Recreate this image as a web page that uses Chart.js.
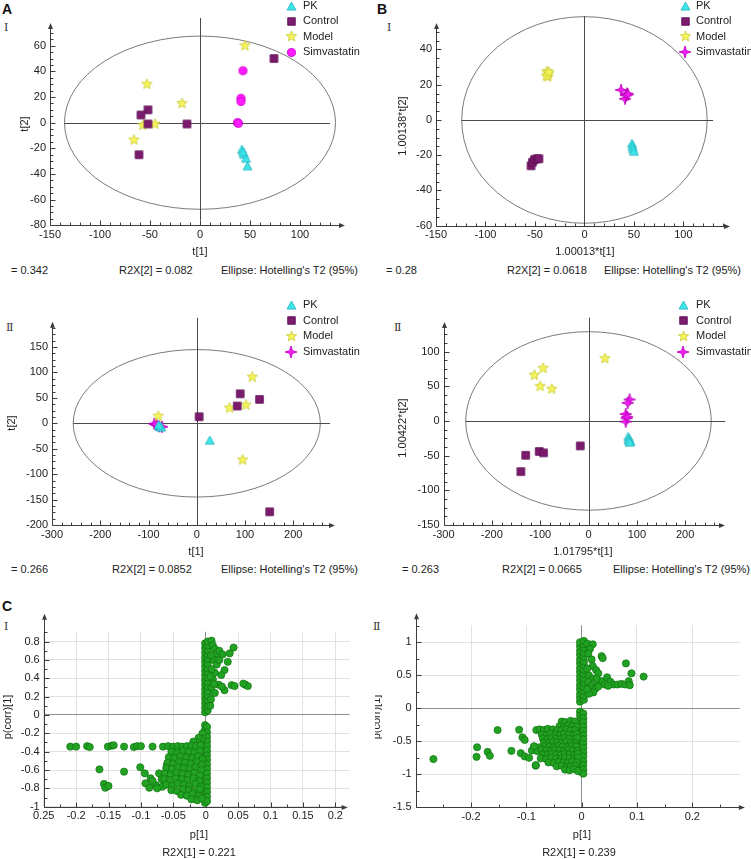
<!DOCTYPE html>
<html>
<head>
<meta charset="utf-8">
<script src="https://cdn.jsdelivr.net/npm/chart.js@4.4.0/dist/chart.umd.min.js"></script>
<style>
  body { margin: 0; width: 751px; height: 859px; position: relative; background: #fff; overflow: hidden; }
  .t { position: absolute; font: 11px "Liberation Sans", Arial, sans-serif; color: #222; white-space: nowrap; line-height: 13px; }
  .p { position: absolute; font: bold 14px "Liberation Sans", Arial, sans-serif; color: #111; line-height: 16px; }
  .r { position: absolute; font: 11px "DejaVu Serif", serif; color: #333; line-height: 13px; }
</style>
</head>
<body>
<div class="p" style="left:2px;top:1px">A</div>
<div class="p" style="left:377px;top:1px">B</div>
<div class="p" style="left:2px;top:598px">C</div>
<div class="r" style="left:4px;top:21px">Ⅰ</div>
<div class="r" style="left:387px;top:21px">Ⅰ</div>
<div class="r" style="left:6px;top:321px">Ⅱ</div>
<div class="r" style="left:394px;top:321px">Ⅱ</div>
<div class="r" style="left:4px;top:620px">Ⅰ</div>
<div class="r" style="left:373px;top:620px">Ⅱ</div>

<div class="t" style="left:11px;top:264px">= 0.342</div>
<div class="t" style="left:119px;top:264px">R2X[2] = 0.082</div>
<div class="t" style="left:221px;top:264px">Ellipse: Hotelling's T2 (95%)</div>
<div class="t" style="left:386px;top:264px">= 0.28</div>
<div class="t" style="left:507px;top:264px">R2X[2] = 0.0618</div>
<div class="t" style="left:604px;top:264px">Ellipse: Hotelling's T2 (95%)</div>
<div class="t" style="left:11px;top:563px">= 0.266</div>
<div class="t" style="left:112px;top:563px">R2X[2] = 0.0852</div>
<div class="t" style="left:221px;top:563px">Ellipse: Hotelling's T2 (95%)</div>
<div class="t" style="left:402px;top:563px">= 0.263</div>
<div class="t" style="left:502px;top:563px">R2X[2] = 0.0665</div>
<div class="t" style="left:613px;top:563px">Ellipse: Hotelling's T2 (95%)</div>

<script>
// ---- data ----
const groupNames = ['PK', 'Control', 'Model', 'Simvastatin'];

// A-I  t[1] / t[2]
const a1PK = [[42,-21],[44,-25],[46,-28],[47.5,-34],[43,-23]];
const a1Control = [[74,50],[-52,10],[-59,6],[-52,-1],[-13,-1],[-61,-25]];
const a1Model = [[45,60],[-53,30],[-18,15],[-57,-2],[-45,-1],[-66,-13.5]];
const a1Simv = [[43,40.5],[41,19],[41,16.5],[37.5,0],[38.5,-0.5]];
const a1Ellipse = [135.5, 67.5];
const a1Cross = [-136, 130, -76, 81.6];

// B-I  1.00013*t[1] / 1.00138*t[2]
const b1PK = [[48,-13.5],[48.5,-15],[49,-16.5],[50,-18]];
const b1Control = [[-54,-26],[-52.5,-24],[-50.5,-22.5],[-48,-22],[-46,-22]];
const b1Model = [[-38,27.5],[-36.5,26],[-37,24.5],[-38.5,25],[-36,27]];
const b1Simv = [[37,17],[43,15],[41,12],[42,14],[44,14.5]];
const b1Ellipse = [124, 58.6];
const b1Cross = [-124, 130, -58.6, 58.9];

// A-II
const a2PK = [[-78,-5],[-76,-7],[-74,-8],[-79,-4],[27,-34]];
const a2Control = [[90,58],[84,34],[130,47],[5,13],[151,-174]];
const a2Model = [[115,91],[68,30],[102,36],[-80,14],[95,-72]];
const a2Simv = [[-88,-1],[-83,-3],[-78,-6],[-72,-7],[-85,-2]];
const a2Ellipse = [256, 145];
const a2Cross = [-256, 276, -200, 207.7];

// B-II  1.01795*t[1] / 1.00422*t[2]
const b2PK = [[82,-23],[84,-26],[87,-30],[83,-28],[85,-31]];
const b2Control = [[-17,-36],[-102,-44],[-93,-46],[-130,-49.5],[-140,-73]];
const b2Model = [[34,90],[-112,66],[-94,76],[-100,50],[-76,46]];
const b2Simv = [[85,31],[81,26],[77,10],[79,4],[77,-1],[80,6]];
const b2Ellipse = [254, 128.7];
const b2Cross = [-254, 283, -150, 149];

// C-I  p[1] / p(corr)[1]
const c1Points = [
  [-0.001,-0.11],[-0.001,-0.16],[-0.001,-0.21],[-0.001,-0.26],[-0.001,-0.31],[-0.001,-0.36],[-0.001,-0.41],[-0.001,-0.46],[-0.001,-0.51],
  [-0.001,-0.56],[-0.001,-0.61],[-0.001,-0.66],[-0.001,-0.71],[-0.001,-0.76],[-0.001,-0.81],[-0.001,-0.86],[-0.001,-0.91],[-0.001,-0.96],
  [0.002,-0.13],[0.002,-0.19],[0.002,-0.24],[0.002,-0.29],[0.002,-0.34],[0.002,-0.39],[0.002,-0.44],[0.002,-0.49],[0.002,-0.54],
  [0.002,-0.59],[0.002,-0.64],[0.002,-0.69],[0.002,-0.74],[0.002,-0.79],[0.002,-0.84],[0.002,-0.89],[0.002,-0.94],
  [-0.005,-0.2],[-0.006,-0.26],[-0.011,-0.25],[-0.013,-0.3],[-0.019,-0.29],
  [-0.209,-0.345],[-0.2,-0.345],[-0.183,-0.34],[-0.179,-0.35],[-0.151,-0.345],[-0.145,-0.335],[-0.142,-0.33],[-0.126,-0.345],
  [-0.111,-0.35],[-0.106,-0.34],[-0.1,-0.34],[-0.082,-0.345],[-0.066,-0.345],[-0.058,-0.34],[-0.05,-0.345],[-0.043,-0.34],
  [-0.036,-0.345],[-0.029,-0.34],[-0.022,-0.335],[-0.015,-0.34],[-0.008,-0.33],
  [-0.164,-0.593],[-0.157,-0.752],[-0.155,-0.793],[-0.15,-0.774],[-0.126,-0.618],[-0.101,-0.57],[-0.094,-0.636],[-0.093,-0.745],
  [-0.085,-0.69],[-0.087,-0.793],[-0.072,-0.636],[-0.077,-0.764],[-0.067,-0.782],[-0.06,-0.545],[-0.082,-0.72],[-0.075,-0.8],[-0.068,-0.7],
  [-0.053,-0.4],[-0.044,-0.41],[-0.035,-0.39],[-0.026,-0.4],[-0.017,-0.41],[-0.009,-0.39],
  [-0.057,-0.46],[-0.048,-0.47],[-0.039,-0.45],[-0.03,-0.46],[-0.021,-0.47],[-0.012,-0.45],[-0.005,-0.48],
  [-0.059,-0.52],[-0.05,-0.53],[-0.041,-0.51],[-0.032,-0.52],[-0.023,-0.53],[-0.014,-0.51],[-0.006,-0.54],
  [-0.061,-0.58],[-0.052,-0.59],[-0.043,-0.57],[-0.034,-0.58],[-0.025,-0.59],[-0.016,-0.57],[-0.007,-0.6],
  [-0.063,-0.64],[-0.054,-0.65],[-0.045,-0.63],[-0.036,-0.64],[-0.027,-0.65],[-0.018,-0.63],[-0.009,-0.66],
  [-0.064,-0.7],[-0.055,-0.71],[-0.046,-0.69],[-0.037,-0.7],[-0.028,-0.71],[-0.019,-0.69],[-0.01,-0.72],
  [-0.061,-0.76],[-0.052,-0.77],[-0.043,-0.75],[-0.034,-0.76],[-0.025,-0.77],[-0.016,-0.75],[-0.007,-0.78],
  [-0.053,-0.82],[-0.044,-0.83],[-0.035,-0.81],[-0.026,-0.82],[-0.017,-0.83],[-0.009,-0.81],
  [-0.038,-0.87],[-0.029,-0.88],[-0.02,-0.86],[-0.011,-0.88],
  [-0.022,-0.92],[-0.013,-0.93],[-0.006,-0.91],
  [-0.001,0.03],[-0.001,0.08],[-0.001,0.13],[-0.001,0.18],[-0.001,0.23],[-0.001,0.28],[-0.001,0.33],[-0.001,0.38],
  [-0.001,0.43],[-0.001,0.48],[-0.001,0.53],[-0.001,0.58],[-0.001,0.63],[-0.001,0.68],[-0.001,0.73],[-0.001,0.78],
  [0.003,0.05],[0.003,0.1],[0.003,0.16],[0.003,0.21],[0.003,0.26],[0.003,0.31],[0.003,0.36],[0.003,0.41],
  [0.003,0.46],[0.003,0.51],[0.003,0.56],[0.003,0.61],[0.003,0.66],[0.003,0.71],[0.003,0.76],[0.003,0.8],
  [0.009,0.81],[0.011,0.76],[0.014,0.72],[0.017,0.67],[0.021,0.7],[0.026,0.66],[0.043,0.735],[0.037,0.672],
  [0.034,0.58],[0.029,0.49],[0.024,0.436],[0.012,0.6],[0.017,0.55],[0.014,0.46],[0.011,0.39],[0.02,0.33],
  [0.029,0.27],[0.04,0.325],[0.0445,0.316],[0.061,0.33],[0.065,0.316],[0.058,0.342],[0.009,0.3],[0.014,0.24],
  [0.008,0.17],[0.009,0.5],[0.008,0.65],[0.021,0.6],[0.025,0.31],[0.013,0.34],[0.007,0.42],[0.007,0.1]
];

// C-II
const c2Points = [
  [-0.003,0.1],[-0.003,0.16],[-0.003,0.22],[-0.003,0.29],[-0.003,0.35],[-0.003,0.42],[-0.003,0.48],[-0.003,0.55],
  [-0.003,0.61],[-0.003,0.68],[-0.003,0.74],[-0.003,0.81],[-0.003,0.87],[-0.003,0.94],[-0.003,1.0],
  [0.004,0.13],[0.004,0.19],[0.004,0.26],[0.004,0.32],[0.004,0.39],[0.004,0.45],[0.004,0.52],[0.004,0.58],
  [0.004,0.65],[0.004,0.71],[0.004,0.78],[0.004,0.84],[0.004,0.91],[0.004,0.97],[0.004,1.02],
  [0.01,0.98],[0.02,0.97],[0.015,0.9],[0.012,0.83],[0.018,0.74],[0.036,0.79],[0.038,0.76],[0.02,0.64],
  [0.026,0.58],[0.03,0.53],[0.013,0.5],[0.02,0.45],[0.012,0.4],[0.018,0.34],[0.025,0.3],[0.021,0.24],
  [0.013,0.22],[0.03,0.38],[0.036,0.41],[0.042,0.36],[0.046,0.47],[0.052,0.4],[0.058,0.36],[0.065,0.36],
  [0.072,0.37],[0.079,0.36],[0.085,0.41],[0.087,0.35],[0.08,0.68],[0.09,0.53],[0.112,0.48],[0.03,0.33],
  [0.048,0.34],[0.01,0.6],[0.027,0.45],[0.01,0.29],
  [-0.003,-0.05],[-0.003,-0.11],[-0.003,-0.18],[-0.003,-0.24],[-0.003,-0.31],[-0.003,-0.37],[-0.003,-0.44],[-0.003,-0.5],
  [-0.003,-0.57],[-0.003,-0.63],[-0.003,-0.7],[-0.003,-0.76],[-0.003,-0.83],[-0.003,-0.89],[-0.003,-0.96],
  [0.003,-0.08],[0.003,-0.15],[0.003,-0.21],[0.003,-0.28],[0.003,-0.34],[0.003,-0.41],[0.003,-0.47],[0.003,-0.54],
  [0.003,-0.6],[0.003,-0.67],[0.003,-0.73],[0.003,-0.8],[0.003,-0.86],[0.003,-0.93],[0.003,-0.99],
  [-0.036,-0.2],[-0.03,-0.21],[-0.02,-0.19],[-0.012,-0.2],
  [-0.04,-0.27],[-0.032,-0.28],[-0.024,-0.26],[-0.016,-0.27],[-0.009,-0.28],
  [-0.082,-0.33],[-0.076,-0.32],[-0.068,-0.33],[-0.061,-0.31],[-0.052,-0.32],[-0.044,-0.34],[-0.036,-0.33],[-0.028,-0.32],[-0.02,-0.34],[-0.012,-0.33],
  [-0.072,-0.4],[-0.064,-0.41],[-0.056,-0.39],[-0.048,-0.4],[-0.04,-0.41],[-0.032,-0.39],[-0.024,-0.4],[-0.016,-0.41],[-0.009,-0.39],
  [-0.07,-0.46],[-0.062,-0.47],[-0.054,-0.45],[-0.046,-0.46],[-0.038,-0.47],[-0.03,-0.45],[-0.022,-0.46],[-0.014,-0.47],[-0.008,-0.45],
  [-0.068,-0.52],[-0.06,-0.53],[-0.052,-0.51],[-0.044,-0.52],[-0.036,-0.53],[-0.028,-0.51],[-0.02,-0.52],[-0.012,-0.53],
  [-0.086,-0.58],[-0.076,-0.59],[-0.066,-0.57],[-0.058,-0.58],[-0.05,-0.59],[-0.042,-0.57],[-0.034,-0.58],[-0.026,-0.59],[-0.018,-0.57],[-0.01,-0.58],
  [-0.09,-0.64],[-0.08,-0.65],[-0.072,-0.63],[-0.064,-0.64],[-0.056,-0.65],[-0.048,-0.63],[-0.04,-0.64],[-0.032,-0.65],[-0.024,-0.63],[-0.016,-0.64],[-0.008,-0.65],
  [-0.07,-0.7],[-0.062,-0.71],[-0.054,-0.69],[-0.046,-0.7],[-0.038,-0.71],[-0.03,-0.69],[-0.022,-0.7],[-0.014,-0.71],[-0.007,-0.69],
  [-0.074,-0.76],[-0.064,-0.77],[-0.055,-0.75],[-0.046,-0.76],[-0.038,-0.77],[-0.03,-0.75],[-0.022,-0.76],[-0.014,-0.77],[-0.007,-0.75],
  [-0.06,-0.82],[-0.05,-0.83],[-0.041,-0.81],[-0.033,-0.82],[-0.025,-0.83],[-0.017,-0.81],[-0.009,-0.82],
  [-0.083,-0.87],[-0.045,-0.88],[-0.036,-0.87],[-0.028,-0.89],[-0.02,-0.88],[-0.012,-0.87],
  [-0.03,-0.93],[-0.022,-0.94],[-0.014,-0.92],[-0.007,-0.95],
  [-0.268,-0.77],[-0.189,-0.59],[-0.19,-0.735],[-0.17,-0.66],[-0.166,-0.72],[-0.152,-0.33],[-0.127,-0.645],[-0.113,-0.325],
  [-0.107,-0.44],[-0.103,-0.48],[-0.11,-0.68],[-0.103,-0.73],[-0.095,-0.75],[-0.086,-0.575],[-0.083,-0.86]
];

// ---- markers ----
function marker(shape, fill, stroke, size) {
  const s = size + 2;
  const c = document.createElement('canvas');
  c.width = s; c.height = s;
  const g = c.getContext('2d');
  const h = s / 2, r = size / 2;
  g.beginPath();
  if (shape === 'square') {
    g.rect(h - r * 0.85, h - r * 0.85, r * 1.7, r * 1.7);
  } else if (shape === 'circle') {
    g.arc(h, h, r * 0.9, 0, Math.PI * 2);
  } else if (shape === 'triangle') {
    g.moveTo(h, h - r); g.lineTo(h + r, h + r * 0.8); g.lineTo(h - r, h + r * 0.8); g.closePath();
  } else {
    const n = shape === 'star4' ? 4 : 5;
    const inner = shape === 'star4' ? 0.33 : 0.45;
    for (let i = 0; i < n * 2; i++) {
      const a = -Math.PI / 2 + i * Math.PI / n;
      const rr = i % 2 ? r * inner : r;
      const px = h + Math.cos(a) * rr, py = h + Math.sin(a) * rr;
      if (i === 0) g.moveTo(px, py); else g.lineTo(px, py);
    }
    g.closePath();
  }
  g.fillStyle = fill; g.fill();
  g.strokeStyle = stroke; g.lineWidth = 0.8; g.stroke();
  return c;
}

const mkPK = marker('triangle', '#3fe4e8', '#22b4c0', 9);
const mkControl = marker('square', '#7c1b6e', '#5a0f50', 9);
const mkModel = marker('star5', '#f4f45a', '#c9c93a', 11);
const mkSimvCircle = marker('circle', '#ff1cff', '#c400c4', 9);
const mkSimvStar = marker('star4', '#f21ef2', '#b800b8', 12);

// ---- decoration plugin: ellipse, zero lines, arrowed axes, titles, legend ----
const simca = {
  id: 'simca',
  beforeDatasetsDraw(chart, args, o) {
    const { ctx, chartArea: a, scales: { x, y } } = chart;
    ctx.save();
    ctx.lineWidth = 1;
    const cx = x.getPixelForValue(0), cy = y.getPixelForValue(0);
    if (o.ellipse) {
      ctx.strokeStyle = '#7a7a7a';
      ctx.beginPath();
      ctx.ellipse(cx, cy, x.getPixelForValue(o.ellipse[0]) - cx, cy - y.getPixelForValue(o.ellipse[1]), 0, 0, Math.PI * 2);
      ctx.stroke();
    }
    if (o.cross) {
      const py = Math.round(cy) + 0.5, px = Math.round(cx) + 0.5;
      ctx.strokeStyle = '#4a4a4a';
      ctx.beginPath();
      ctx.moveTo(x.getPixelForValue(o.cross[0]), py); ctx.lineTo(x.getPixelForValue(o.cross[1]), py);
      ctx.moveTo(px, y.getPixelForValue(o.cross[2])); ctx.lineTo(px, y.getPixelForValue(o.cross[3]));
      ctx.stroke();
    }
    // axes with arrows
    const L = Math.round(a.left) + 0.5, B = Math.round(a.bottom) + 0.5;
    const R = a.right + o.arrow[0], T = a.top - o.arrow[1];
    ctx.strokeStyle = '#3c3c3c'; ctx.fillStyle = '#3c3c3c';
    ctx.beginPath();
    ctx.moveTo(L, B); ctx.lineTo(R - 3, B);
    ctx.moveTo(L, B); ctx.lineTo(L, T + 3);
    ctx.stroke();
    ctx.beginPath();
    ctx.moveTo(R, B); ctx.lineTo(R - 6, B - 2.5); ctx.lineTo(R - 6, B + 2.5); ctx.closePath();
    ctx.moveTo(L, T); ctx.lineTo(L - 2.5, T + 6); ctx.lineTo(L + 2.5, T + 6); ctx.closePath();
    ctx.fill();
    // major + minor ticks, drawn inside
    ctx.beginPath();
    for (let i = 0; ; i++) {
      const v = x.min + i * o.minor[0];
      if (v > x.max + 1e-9) break;
      const q = v / o.major[0];
      const len = Math.abs(q - Math.round(q)) < 1e-6 ? 5 : 3;
      const p = Math.round(x.getPixelForValue(v)) + 0.5;
      ctx.moveTo(p, B); ctx.lineTo(p, B - len);
    }
    for (let i = 0; ; i++) {
      const v = y.min + i * o.minor[1];
      if (v > y.max + 1e-9) break;
      const q = v / o.major[1];
      const len = Math.abs(q - Math.round(q)) < 1e-6 ? 5 : 3;
      const p = Math.round(y.getPixelForValue(v)) + 0.5;
      ctx.moveTo(L, p); ctx.lineTo(L + len, p);
    }
    ctx.stroke();
    ctx.restore();
  },
  afterDraw(chart, args, o) {
    const { ctx } = chart;
    const [ox, oy] = o.off;
    ctx.save();
    ctx.font = '11px "Liberation Sans", Arial, sans-serif';
    ctx.fillStyle = '#222';
    ctx.textBaseline = 'middle';
    ctx.textAlign = 'center';
    ctx.fillText(o.xTitle, o.xt[0] - ox, o.xt[1] - oy);
    if (o.xTitle2) ctx.fillText(o.xTitle2, o.xt2[0] - ox, o.xt2[1] - oy);
    ctx.save();
    ctx.translate(o.yt[0] - ox, o.yt[1] - oy);
    ctx.rotate(-Math.PI / 2);
    ctx.fillText(o.yTitle, 0, 0);
    ctx.restore();
    if (o.legend) {
      ctx.textAlign = 'left';
      chart.data.datasets.forEach((ds, i) => {
        const yy = o.legend.y - oy + i * o.legend.dy;
        const img = ds.pointStyle;
        ctx.drawImage(img, Math.round(o.legend.mx - ox - img.width / 2), Math.round(yy - img.height / 2));
        ctx.fillText(ds.label, o.legend.tx - ox, yy);
      });
    }
    ctx.restore();
  }
};

const fmt = v => String(+v.toFixed(6));

function groupSets(pk, control, model, simv, simvMarker) {
  const sets = [pk, control, model, simv];
  const marks = [mkPK, mkControl, mkModel, simvMarker];
  return sets.map((d, i) => ({
    label: groupNames[i],
    data: d.map(([x, y]) => ({ x, y })),
    pointStyle: marks[i],
    pointRadius: 4
  }));
}

function greenSet(points) {
  return [{
    label: 'p',
    data: points.map(([x, y]) => ({ x, y })),
    pointStyle: 'circle',
    pointRadius: 3.6,
    backgroundColor: '#22a222',
    borderColor: '#107210',
    borderWidth: 0.7
  }];
}

// box: [left, top, width, height] of the canvas on the page
// area: [left, top, right, bottom] of the plot area on the page
function build(box, area, sx, sy, datasets, deco, grid, xLabel) {
  const [bl, bt, bw, bh] = box;
  const c = document.createElement('canvas');
  c.width = bw; c.height = bh;
  c.style.cssText = `position:absolute;left:${bl}px;top:${bt}px`;
  document.body.appendChild(c);
  deco.off = [bl, bt];
  const gridOpt = grid
    ? { display: true, drawTicks: false, lineWidth: 1,
        color: ctx => (ctx.tick && Math.abs(ctx.tick.value) < 1e-9 ? '#8f8f8f' : '#e2e2e2') }
    : { display: false, drawTicks: false };
  return new Chart(c, {
    type: 'scatter',
    data: { datasets },
    options: {
      responsive: false,
      animation: false,
      events: [],
      layout: { padding: { left: 0, top: area[1] - bt, right: bl + bw - area[2], bottom: 0 } },
      plugins: { legend: { display: false }, tooltip: { enabled: false }, simca: deco },
      scales: {
        x: {
          type: 'linear', min: sx[0], max: sx[1],
          afterFit: s => { s.height = bt + bh - area[3]; },
          ticks: { stepSize: sx[2], padding: 3, includeBounds: false, maxRotation: 0, autoSkip: false,
                   color: '#222', callback: xLabel || fmt },
          grid: gridOpt,
          border: { display: false }
        },
        y: {
          type: 'linear', min: sy[0], max: sy[1],
          afterFit: s => { s.width = area[0] - bl; },
          ticks: { stepSize: sy[2], padding: 4, includeBounds: false, autoSkip: false, color: '#222', callback: fmt },
          grid: gridOpt,
          border: { display: false }
        }
      }
    },
    plugins: [simca]
  });
}

Chart.defaults.font.family = '"Liberation Sans", Arial, sans-serif';
Chart.defaults.font.size = 11;

// A-I
build([0, 0, 375, 262], [50, 29, 339, 225.3], [-150, 139, 50], [-80, 73, 20],
  groupSets(a1PK, a1Control, a1Model, a1Simv, mkSimvCircle),
  { ellipse: a1Ellipse, cross: a1Cross, arrow: [6, 6], minor: [10, 5], major: [50, 20],
    xTitle: 't[1]', xt: [200, 252], yTitle: 't[2]', yt: [25, 124],
    legend: { mx: 291, tx: 303, y: 6, dy: 15.4 } });

// B-I
build([375, 0, 376, 262], [436, 29, 724, 225.7], [-150, 141, 50], [-60, 51.6, 20],
  groupSets(b1PK, b1Control, b1Model, b1Simv, mkSimvStar),
  { ellipse: b1Ellipse, cross: b1Cross, arrow: [6, 6], minor: [10, 5], major: [50, 20],
    xTitle: '1.00013*t[1]', xt: [585, 252], yTitle: '1.00138*t[2]', yt: [403, 126],
    legend: { mx: 685, tx: 696, y: 6, dy: 15.4 } });

// A-II
build([0, 290, 375, 270], [52, 327.7, 329, 525], [-300, 274, 100], [-200, 188, 50],
  groupSets(a2PK, a2Control, a2Model, a2Simv, mkSimvStar),
  { ellipse: a2Ellipse, cross: a2Cross, arrow: [6, 6], minor: [20, 12.5], major: [100, 50],
    xTitle: 't[1]', xt: [196, 552], yTitle: 't[2]', yt: [12, 423],
    legend: { mx: 291, tx: 303, y: 305, dy: 15.5 } });

// B-II
build([375, 290, 376, 270], [443.5, 328, 719, 525], [-300, 270, 100], [-150, 134, 50],
  groupSets(b2PK, b2Control, b2Model, b2Simv, mkSimvStar),
  { ellipse: b2Ellipse, cross: b2Cross, arrow: [6, 6], minor: [20, 12.5], major: [100, 50],
    xTitle: '1.01795*t[1]', xt: [583, 552], yTitle: '1.00422*t[2]', yt: [403, 428],
    legend: { mx: 683, tx: 696, y: 305, dy: 15.5 } });

// C-I
build([0, 600, 375, 259], [43.7, 631.7, 349.6, 806.7], [-0.25, 0.222, 0.05], [-1, 0.908, 0.2],
  greenSet(c1Points),
  { arrow: [-2, 18], minor: [0.025, 0.1], major: [0.05, 0.2],
    xTitle: 'p[1]', xt: [199, 835], xTitle2: 'R2X[1] = 0.221', xt2: [199, 853],
    yTitle: 'p(corr)[1]', yt: [8, 717] },
  true, v => (Math.abs(v + 0.25) < 1e-9 ? '0.25' : fmt(v)));

// C-II
build([375, 600, 376, 259], [415.7, 625.3, 739.9, 807.3], [-0.3, 0.286, 0.1], [-1.5, 1.257, 0.5],
  greenSet(c2Points),
  { arrow: [5, 12], minor: [0.05, 0.25], major: [0.1, 0.5],
    xTitle: 'p[1]', xt: [582, 835], xTitle2: 'R2X[1] = 0.239', xt2: [579, 853],
    yTitle: 'p(corr)[1]', yt: [377, 717] },
  true);
</script>
</body>
</html>
